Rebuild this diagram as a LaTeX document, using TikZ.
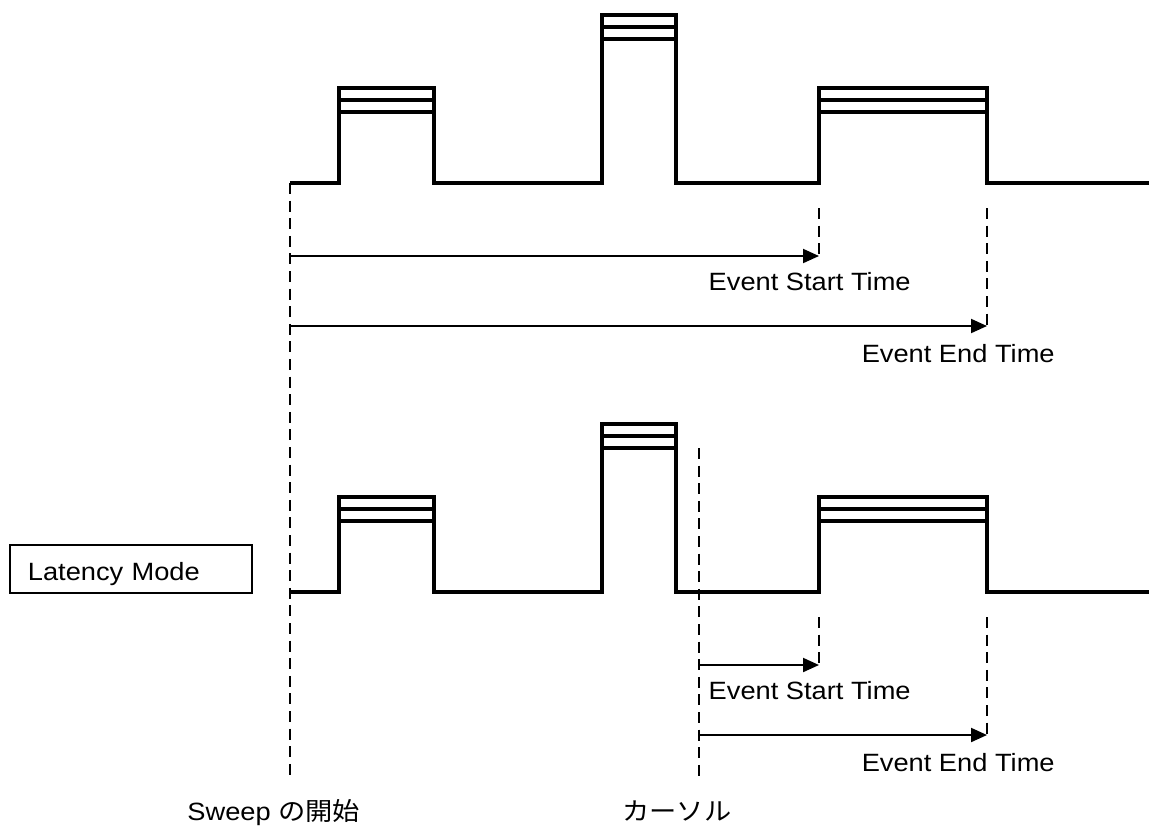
\documentclass[tikz,border=0pt]{standalone}
\usepackage{fontspec}
\setmainfont{Liberation Sans}[FakeStretch=1.09]
\newfontfamily\jpfont{Noto Sans CJK JP}[FakeStretch=1.09]
\usetikzlibrary{positioning,arrows.meta,calc}

\begin{document}
\begin{tikzpicture}[x=0.5pt, y=-0.5pt, >={Triangle[length=8pt,width=7pt]},
  wave/.style={line width=1.7pt},
  guide/.style={line width=1pt, dash pattern=on 5.5pt off 3.3pt},
  span/.style={->, line width=1pt},
  lbl/.style={font=\fontsize{12.5pt}{15pt}\selectfont, inner sep=0pt}]
  \useasboundingbox (0,0) rectangle (1149,826);

  % the two pulse trains, same shape, second one lower
  \foreach \dy in {0,409} {
    \begin{scope}[shift={(0,\dy)}]
      \draw[wave] (290,183) -- (339,183) -- (339,88) -- (434,88) -- (434,183)
        -- (602,183) -- (602,15) -- (676,15) -- (676,183)
        -- (819,183) -- (819,88) -- (987,88) -- (987,183) -- (1149,183);
      \foreach \xa/\xb/\yt in {339/434/88, 602/676/15, 819/987/88}
        \draw[wave] (\xa,\yt+12) -- (\xb,\yt+12) (\xa,\yt+24) -- (\xb,\yt+24);
    \end{scope}
  }

  % reference lines
  \coordinate (sw) at (290,183);
  \coordinate (sw-end) at (290,779);
  \coordinate (cur) at (699,448);
  \coordinate (cur-end) at (699,777);
  \draw[guide] (sw) -- (sw-end);
  \draw[guide] (cur) -- (cur-end);

  % start / end times
  \foreach \row/\dy/\from in {t/0/sw, b/409/cur} {
    \coordinate (\row-st) at (819,208+\dy);
    \coordinate (\row-sa) at (819,256+\dy);
    \coordinate (\row-et) at (987,208+\dy);
    \coordinate (\row-ea) at (987,326+\dy);
    \draw[guide] (\row-st) -- (\row-sa);
    \draw[guide] (\row-et) -- (\row-ea);
    \draw[span] (\from |- \row-sa) -- (\row-sa);
    \draw[span] (\from |- \row-ea) -- (\row-ea);
    \node[lbl, anchor=base east] (\row-slbl) at (911,290+\dy) {Event Start Time};
    \node[lbl, anchor=base east] (\row-elbl) at (1055,362+\dy) {Event End Time};
  }

  \node[lbl, draw, line width=0.9pt, anchor=north west, minimum width=121pt,
    minimum height=24pt, inner xsep=9pt, text width=103pt, align=left,
    text height=12pt, text depth=0pt] (mode) at (9,544) {Latency Mode};
  \node[lbl, anchor=base west] (swlbl) at (187,820) {Sweep {\jpfont の開始}};
  \node[lbl, anchor=base west] (curlbl) at (622,820) {{\jpfont カーソル}};
\end{tikzpicture}
\end{document}
